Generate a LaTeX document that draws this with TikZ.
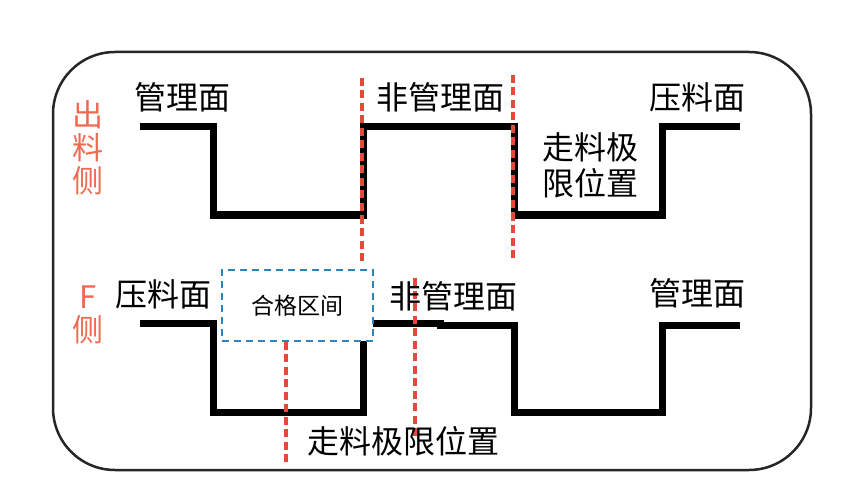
\documentclass[tikz,border=0pt]{standalone}
\usepackage{fontspec}
\newfontfamily\cjk{Noto Sans CJK SC}
\definecolor{redline}{HTML}{E4493A}
\definecolor{redtext}{HTML}{EE6A50}
\definecolor{boxblue}{HTML}{2A86B8}
\tikzset{
  wave/.style={line width=7pt, line join=miter, black},
  frame/.style={line width=2.5pt, rounded corners=62pt, black!85},
  limit/.style={redline, line width=3.8pt, dash pattern=on 8pt off 4.5pt},
  lbl/.style={font=\cjk\fontsize{32}{32}\selectfont, inner sep=0pt},
  side/.style={font=\cjk\fontsize{31}{33}\selectfont, text=redtext, inner sep=0pt, align=center},
  okbox/.style={draw=boxblue, fill=white, line width=1.8pt, dash pattern=on 7pt off 5pt, inner sep=0pt, minimum width=151pt, minimum height=71pt, font=\cjk\fontsize{23}{23}\selectfont},
}
\begin{document}
\begin{tikzpicture}[x=1pt,y=-1pt]
\useasboundingbox (0,0) rectangle (859,497);
\draw[frame] (53,52) rectangle (811,470);
% top waveform
\draw[wave] (140,127) -- (213,127) -- (213,215) -- (363,215) -- (363,127) -- (514,127) -- (514,215) -- (662,215) -- (662,127) -- (740,127);
% bottom waveform
\draw[wave] (140,323) -- (213,323) -- (213,412) -- (363,412) -- (363,330);
\draw[wave] (370,323) -- (440,323) -- (440,325) -- (514,325) -- (514,412) -- (662,412) -- (662,325) -- (740,325);
% red limits
\coordinate (l1a) at (362,78);  \coordinate (l1b) at (362,262);
\coordinate (l2a) at (513,75);  \coordinate (l2b) at (513,258);
\coordinate (l3a) at (286,340); \coordinate (l3b) at (286,463);
\coordinate (l4a) at (415,278); \coordinate (l4b) at (415,440);
\draw[limit] (l1a) -- (l1b);
\draw[limit] (l2a) -- (l2b);
\draw[limit] (l4a) -- (l4b);
% qualified box
\node[okbox] (ok) at (297.5,305.5) {合格区间};
\draw[limit] (ok.south -| l3a) -- (l3b);
% labels
\node[lbl] (t1) at (182,97) {管理面};
\node[lbl] (t2) at (440,97) {非管理面};
\node[lbl] (t3) at (697,97) {压料面};
\node[lbl, align=center, font=\cjk\fontsize{32}{36}\selectfont] (t4) at (590,165) {走料极\\限位置};
\node[lbl] (b1) at (163,294) {压料面};
\node[lbl] (b2) at (453,296) {非管理面};
\node[lbl] (b3) at (697,293) {管理面};
\node[lbl] (b4) at (403,441) {走料极限位置};
\node[side] (s1) at (88,148) {出\\料\\侧};
\node[side] (s2) at (88,315) {F\\侧};
\end{tikzpicture}
\end{document}
